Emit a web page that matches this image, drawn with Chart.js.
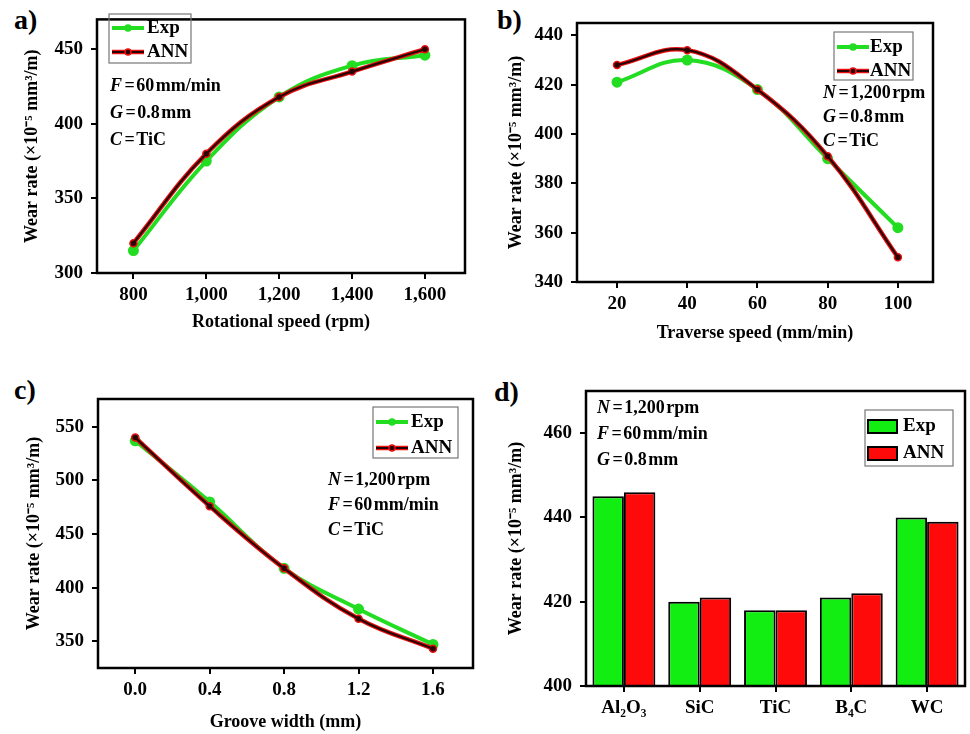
<!DOCTYPE html>
<html>
<head>
<meta charset="utf-8">
<script src="https://cdn.jsdelivr.net/npm/chart.js@4.4.1/dist/chart.umd.min.js"></script>
<style>
  body { margin: 0; background: #fff; width: 970px; height: 734px; position: relative; overflow: hidden; }
  canvas { position: absolute; }
  .lbl { position: absolute; font: bold 28px "Liberation Serif", serif; line-height: 28px; color: #000; }
</style>
</head>
<body>
<div class="lbl" style="left:14px;top:6px">a)</div>
<div class="lbl" style="left:497px;top:6px">b)</div>
<div class="lbl" style="left:14px;top:376px">c)</div>
<div class="lbl" style="left:494px;top:378px">d)</div>
<canvas id="chartA" width="485" height="345" style="left:0;top:0"></canvas>
<canvas id="chartB" width="490" height="345" style="left:480px;top:0"></canvas>
<canvas id="chartC" width="485" height="374" style="left:0;top:360px"></canvas>
<canvas id="chartD" width="485" height="374" style="left:485px;top:360px"></canvas>
<script>
// a) rotational speed
const rotSpeed = [800, 1000, 1200, 1400, 1600];
const rotExp = [315, 375, 418, 439, 446];
const rotAnn = [320, 380, 418, 435, 450];
const rotYTicks = [300, 350, 400, 450];

// b) traverse speed
const travSpeed = [20, 40, 60, 80, 100];
const travExp = [421, 430, 418, 390, 362];
const travAnn = [428, 434, 418, 391, 350];
const travYTicks = [340, 360, 380, 400, 420, 440];

// c) groove width
const grooveWidth = [0.0, 0.4, 0.8, 1.2, 1.6];
const grooveExp = [537, 480, 418, 380, 347];
const grooveAnn = [540, 476, 418, 371, 343];
const grooveYTicks = [350, 400, 450, 500, 550];

// d) ceramic type
const ceramics = ["Al₂O₃", "SiC", "TiC", "B₄C", "WC"];
const ceramicExp = [445, 420, 418, 421, 440];
const ceramicAnn = [446, 421, 418, 422, 439];
const ceramicYTicks = [400, 420, 440, 460];

const SERIF = '"Liberation Serif", "Times New Roman", serif';
const GREEN = "#22dd22";
const RED = "#e81010";
const DARK = "#2a0404";
const yTitle = "Wear rate (×10⁻⁵ mm³/m)";
const H = "\u200A"; // espacio muy fino

// marco, leyenda y anotaciones dibujadas a mano
const panelPlugin = {
  id: "panel",
  afterDraw(chart, args, opts) {
    const ctx = chart.ctx;
    const a = chart.chartArea;
    ctx.save();
    ctx.strokeStyle = "#000";
    ctx.lineWidth = 2.5;
    ctx.strokeRect(a.left, a.top, a.right - a.left, a.bottom - a.top);

    ctx.fillStyle = "#000";
    ctx.textBaseline = "middle";
    opts.notes.forEach((n, i) => {
      let x = opts.noteX;
      const y = opts.noteY + i * opts.noteGap;
      ctx.font = "italic bold 18px " + SERIF;
      ctx.fillText(n[0], x, y);
      x += ctx.measureText(n[0]).width + 1;
      ctx.font = "bold 18px " + SERIF;
      ctx.fillText(n[1], x, y);
    });

    const L = opts.legend;
    ctx.strokeStyle = "#777";
    ctx.lineWidth = 1.2;
    ctx.strokeRect(L.x, L.y, L.w, L.h);
    L.items.forEach((it, i) => {
      const y = L.rows[i];
      if (opts.bars) {
        ctx.fillStyle = it.color;
        ctx.fillRect(L.x + 3, y - 6, 29, 13);
        ctx.strokeStyle = "#000";
        ctx.lineWidth = 2;
        ctx.strokeRect(L.x + 3, y - 6, 29, 13);
      } else {
        ctx.strokeStyle = it.color;
        ctx.lineWidth = it.width;
        ctx.beginPath();
        ctx.moveTo(L.x + 3, y);
        ctx.lineTo(L.x + 35, y);
        ctx.stroke();
        if (it.core) {
          ctx.strokeStyle = it.core;
          ctx.lineWidth = 2;
          ctx.stroke();
        }
        ctx.beginPath();
        ctx.arc(L.x + 19, y, 3, 0, Math.PI * 2);
        ctx.fillStyle = it.core || it.color;
        ctx.fill();
        ctx.strokeStyle = it.color;
        ctx.lineWidth = 1.5;
        ctx.stroke();
      }
      ctx.fillStyle = "#000";
      ctx.font = "bold 19px " + SERIF;
      ctx.fillText(it.text, L.x + L.textDx, y);
    });
    ctx.restore();
  },
};

function axisFont(size) {
  return { family: SERIF, size: size, weight: "bold" };
}

function note(letter, value) {
  return [letter, H + "=" + H + value];
}

function yScale(ticks, min, max, width, titlePad) {
  return {
    min: min,
    max: max,
    afterBuildTicks: (s) => { s.ticks = ticks.map((v) => ({ value: v })); },
    afterFit: (s) => { s.width = width; },
    ticks: { font: axisFont(19), color: "#000", padding: 8 },
    grid: { drawOnChartArea: false, color: "#000", lineWidth: 2, tickLength: 6 },
    border: { display: false },
    title: { display: true, text: yTitle, font: axisFont(18), color: "#000", padding: { top: titlePad, bottom: 0 } },
  };
}

function lineChart(id, p) {
  const pts = (ys) => p.x.map((v, i) => ({ x: v, y: ys[i] }));
  return new Chart(document.getElementById(id), {
    type: "line",
    data: {
      datasets: [
        { label: "ANN", data: pts(p.ann), borderColor: DARK, borderWidth: 2.2, pointRadius: 0, tension: 0.4, order: 0 },
        { label: "ANN", data: pts(p.ann), borderColor: RED, borderWidth: 4.5, pointRadius: 3.5,
          pointBackgroundColor: DARK, pointBorderColor: RED, pointBorderWidth: 1.5, tension: 0.4, order: 1 },
        { label: "Exp", data: pts(p.exp), borderColor: GREEN, backgroundColor: GREEN, borderWidth: 4, pointRadius: 3.5,
          pointBorderColor: GREEN, tension: 0.4, order: 2 },
      ],
    },
    options: {
      responsive: false,
      animation: false,
      layout: { padding: { left: 0, top: p.top, right: p.right, bottom: 0 } },
      plugins: {
        legend: { display: false },
        tooltip: { enabled: false },
        panel: p.panel,
      },
      scales: {
        x: {
          type: "linear",
          min: p.xMin,
          max: p.xMax,
          afterBuildTicks: (s) => { s.ticks = p.x.map((v) => ({ value: v })); },
          afterFit: (s) => { s.height = p.xH; },
          ticks: { font: axisFont(19), color: "#000", padding: 5, callback: p.fmt },
          grid: { drawOnChartArea: false, color: "#000", lineWidth: 2, tickLength: 6 },
          border: { display: false },
          title: { display: true, text: p.xTitle, font: axisFont(18), color: "#000", padding: { top: 0, bottom: p.xTitlePad } },
        },
        y: yScale(p.yTicks, p.yMin, p.yMax, p.yW, p.yTitlePad),
      },
    },
    plugins: [panelPlugin],
  });
}

const lineLegend = [
  { text: "Exp", color: GREEN, width: 4 },
  { text: "ANN", color: RED, width: 4.5, core: DARK },
];

lineChart("chartA", {
  x: rotSpeed, exp: rotExp, ann: rotAnn, yTicks: rotYTicks,
  xMin: 700, xMax: 1710, yMin: 300, yMax: 470,
  top: 7, right: 20, xH: 72, yW: 97, yTitlePad: 22, xTitlePad: 12,
  xTitle: "Rotational speed (rpm)",
  fmt: (v) => v.toLocaleString("en-US"),
  panel: {
    notes: [note("F", "60" + H + "mm/min"), note("G", "0.8" + H + "mm"), note("C", "TiC")],
    noteX: 110, noteY: 86, noteGap: 27,
    legend: { x: 109, y: 14, w: 82, h: 49, rows: [28, 52], textDx: 38, items: lineLegend },
  },
});

lineChart("chartB", {
  x: travSpeed, exp: travExp, ann: travAnn, yTicks: travYTicks,
  xMin: 8.6, xMax: 110, yMin: 340, yMax: 445,
  top: 23, right: 37, xH: 63, yW: 97, yTitlePad: 26, xTitlePad: 1,
  xTitle: "Traverse speed (mm/min)",
  fmt: (v) => String(v),
  panel: {
    notes: [note("N", "1,200" + H + "rpm"), note("G", "0.8" + H + "mm"), note("C", "TiC")],
    noteX: 343, noteY: 93, noteGap: 24,
    legend: { x: 354, y: 32, w: 79, h: 48, rows: [47, 71], textDx: 36, items: lineLegend },
  },
});

lineChart("chartC", {
  x: grooveWidth, exp: grooveExp, ann: grooveAnn, yTicks: grooveYTicks,
  xMin: -0.2, xMax: 1.815, yMin: 325, yMax: 576,
  top: 39, right: 12, xH: 66, yW: 98, yTitlePad: 24, xTitlePad: 1,
  xTitle: "Groove width (mm)",
  fmt: (v) => v.toFixed(1),
  panel: {
    notes: [note("N", "1,200" + H + "rpm"), note("F", "60" + H + "mm/min"), note("C", "TiC")],
    noteX: 328, noteY: 120, noteGap: 25,
    legend: { x: 373, y: 47, w: 85, h: 51, rows: [62, 88], textDx: 38, items: lineLegend },
  },
});

new Chart(document.getElementById("chartD"), {
  type: "bar",
  data: {
    labels: ceramics,
    datasets: [
      { label: "Exp", data: ceramicExp, backgroundColor: "#12ee12", borderColor: "#000", borderWidth: 2 },
      { label: "ANN", data: ceramicAnn, backgroundColor: "#ff0a0a", borderColor: "#000", borderWidth: 2 },
    ],
  },
  options: {
    responsive: false,
    animation: false,
    datasets: { bar: { categoryPercentage: 0.83, barPercentage: 1 } },
    layout: { padding: { left: 0, top: 31, right: 5, bottom: 0 } },
    plugins: {
      legend: { display: false },
      tooltip: { enabled: false },
      panel: {
        bars: true,
        notes: [note("N", "1,200" + H + "rpm"), note("F", "60" + H + "mm/min"), note("G", "0.8" + H + "mm")],
        noteX: 112, noteY: 48, noteGap: 26,
        legend: {
          x: 380, y: 50, w: 88, h: 56, rows: [66, 93], textDx: 38,
          items: [{ text: "Exp", color: "#12ee12" }, { text: "ANN", color: "#ff0a0a" }],
        },
      },
    },
    scales: {
      x: {
        afterFit: (s) => { s.height = 48; },
        ticks: { font: axisFont(19), color: "#000", padding: 5 },
        grid: { offset: false, drawOnChartArea: false, color: "#000", lineWidth: 2, tickLength: 6 },
        border: { display: false },
      },
      y: yScale(ceramicYTicks, 400, 470, 101, 21),
    },
  },
  plugins: [panelPlugin],
});
</script>
</body>
</html>
